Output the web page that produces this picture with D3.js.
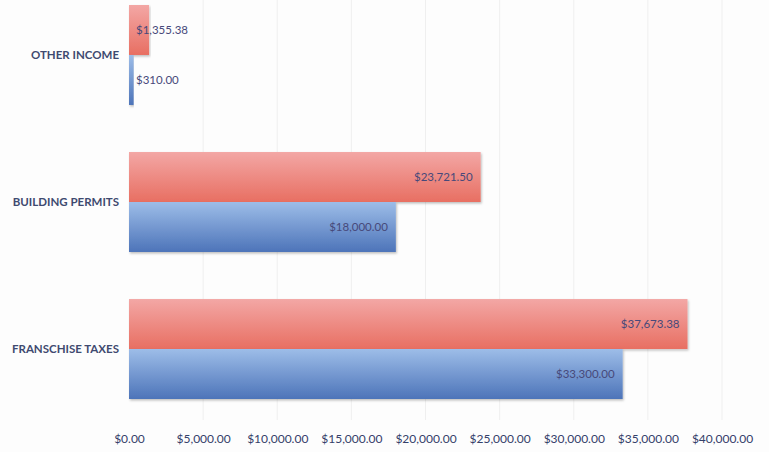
<!DOCTYPE html>
<html>
<head>
<meta charset="utf-8">
<script src="https://cdn.jsdelivr.net/npm/d3@7"></script>
<style>
  body { margin: 0; background: #fdfdfd; }
  svg { display: block; }
  text { font-family: Lato, "Open Sans", sans-serif; }
</style>
</head>
<body>
<svg id="chart" width="769" height="452"></svg>
<script>
// data
const categories = ["OTHER INCOME", "BUILDING PERMITS", "FRANSCHISE TAXES"];
const seriesNames = ["red", "blue"];
const redValues = [1355.38, 23721.50, 37673.38];
const blueValues = [310.00, 18000.00, 33300.00];
const tickValues = [0, 5000, 10000, 15000, 20000, 25000, 30000, 35000, 40000];

const svg = d3.select("#chart");
const money = d3.format("$,.2f");

const x = d3.scaleLinear().domain([0, 40000]).range([129, 722]);
const y = d3.scaleBand().domain(categories).range([5, 399]).paddingInner(0.32).paddingOuter(0);
const ySub = d3.scaleBand().domain(seriesNames).range([0, y.bandwidth()]);

const defs = svg.append("defs");
function grad(id, top, bottom) {
  const g = defs.append("linearGradient").attr("id", id)
    .attr("x1", 0).attr("y1", 0).attr("x2", 0).attr("y2", 1);
  g.append("stop").attr("offset", "0%").attr("stop-color", top);
  g.append("stop").attr("offset", "100%").attr("stop-color", bottom);
}
grad("gradRed", "#f3a7a5", "#e86f62");
grad("gradBlue", "#9dbde8", "#4d74b9");

const shadow = defs.append("filter").attr("id", "shadow")
  .attr("x", "-5%").attr("y", "-10%").attr("width", "110%").attr("height", "130%");
shadow.append("feDropShadow").attr("dx", 1).attr("dy", 1.5).attr("stdDeviation", 1)
  .attr("flood-color", "#000").attr("flood-opacity", 0.25);

// gridlines
svg.append("g").selectAll("line")
  .data(tickValues.slice(1))
  .join("line")
  .attr("x1", d => x(d)).attr("x2", d => x(d))
  .attr("y1", 0).attr("y2", 420)
  .attr("stroke", "#efefef").attr("stroke-width", 1);

// x axis
const xAxis = svg.append("g")
  .attr("transform", "translate(0,429)")
  .call(d3.axisBottom(x).tickValues(tickValues).tickFormat(money).tickSize(0));
xAxis.select(".domain").remove();
xAxis.selectAll("text")
  .attr("dy", "0.9em")
  .style("font-size", "12px")
  .style("fill", "#34406a");

// y axis labels
const yAxis = svg.append("g")
  .attr("transform", "translate(119,0)")
  .call(d3.axisLeft(y).tickSize(0));
yAxis.select(".domain").remove();
yAxis.selectAll("text")
  .attr("x", 0)
  .style("font-size", "11.5px")
  .style("font-weight", "bold")
  .style("fill", "#3f4a70");

const rows = categories.map((c, i) => [
  { cat: c, s: "red", v: redValues[i] },
  { cat: c, s: "blue", v: blueValues[i] }
]).flat();

svg.append("g").selectAll("rect")
  .data(rows)
  .join("rect")
  .attr("x", x(0))
  .attr("y", d => y(d.cat) + ySub(d.s))
  .attr("width", d => x(d.v) - x(0))
  .attr("height", ySub.bandwidth())
  .attr("fill", d => d.s === "red" ? "url(#gradRed)" : "url(#gradBlue)")
  .attr("filter", "url(#shadow)");

const fits = d => x(d.v) - x(0) > 80;
svg.append("g").selectAll("text")
  .data(rows)
  .join("text")
  .attr("x", d => fits(d) ? x(d.v) - 8 : x(0) + 7)
  .attr("y", d => y(d.cat) + ySub(d.s) + ySub.bandwidth() / 2)
  .attr("dy", "0.35em")
  .attr("text-anchor", d => fits(d) ? "end" : "start")
  .style("font-size", "11.5px")
  .style("fill", "#47497a")
  .text(d => money(d.v));
</script>
</body>
</html>
